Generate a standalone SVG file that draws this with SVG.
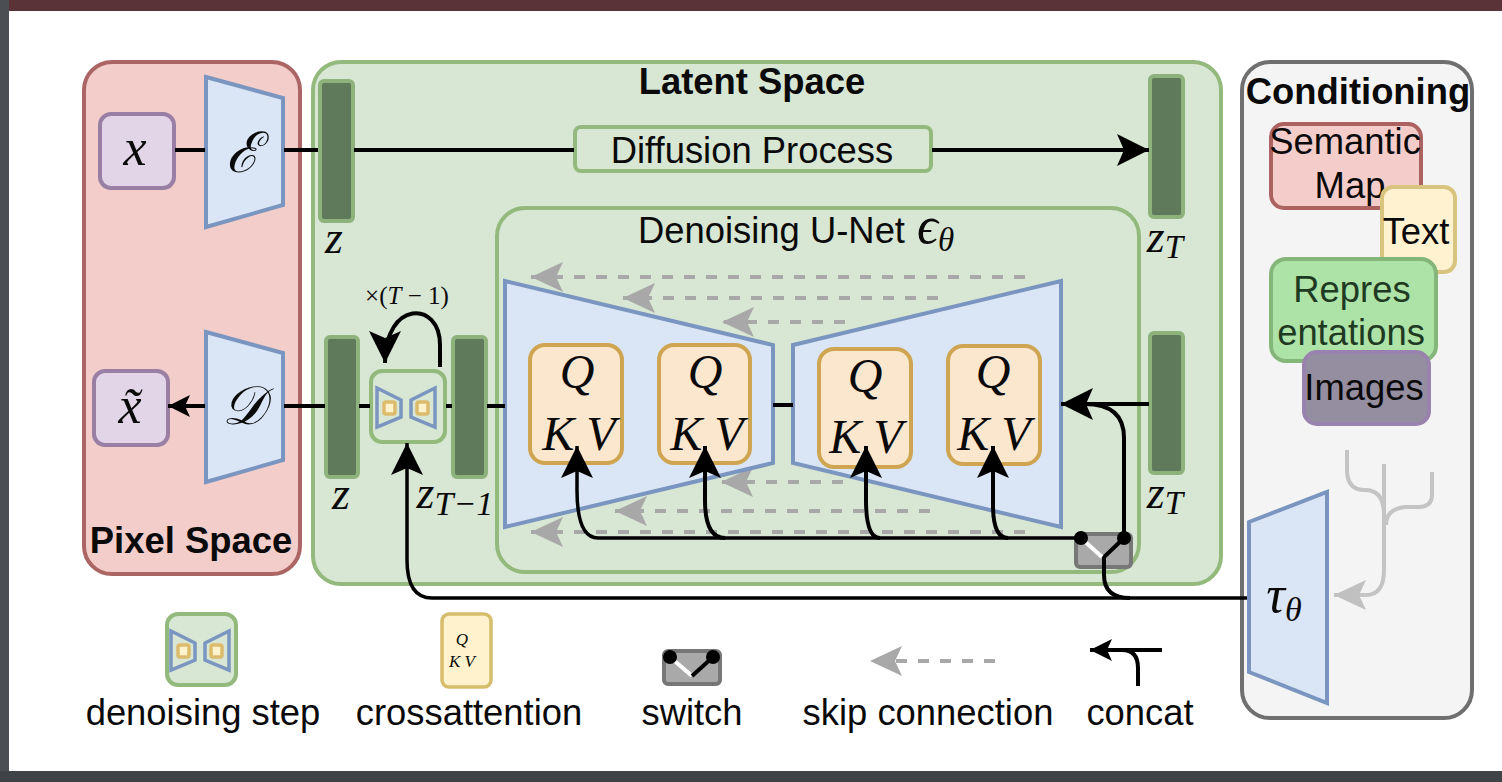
<svg xmlns="http://www.w3.org/2000/svg" xmlns:xlink="http://www.w3.org/1999/xlink" width="1502" height="782" viewBox="0 0 1502 782">
<style>
svg{font-size:36.4px}
text{font-family:"Liberation Sans",Arial,sans-serif;fill:#0a0a0a;text-anchor:middle}
.b{font-weight:bold}
.m{font-family:"Liberation Serif","Times New Roman",serif;font-style:italic}
.bar{fill:#5e7a5a;stroke:#8db27b;stroke-width:4}
.trap{fill:#dae6f6;stroke:#7a95bf;stroke-width:4}
.qkv{fill:#fbe6ce;stroke:#cfa552;stroke-width:4}
.conn{fill:none;stroke:#000;stroke-width:4}
.thin{fill:none;stroke:#000;stroke-width:3.5}
.skip{fill:none;stroke:#a8a8a8;stroke-width:4;stroke-dasharray:11 11;marker-end:url(#gh)}
.tree{fill:none;stroke:#c4c4c4;stroke-width:4}
.sw{fill:#a9a9a9;stroke:#777;stroke-width:4}
</style>
<defs>
<marker id="bh" markerUnits="userSpaceOnUse" markerWidth="34" markerHeight="34" refX="32" refY="17" orient="auto"><path d="M0 1L32 17L0 33L7 17Z" fill="#000"/></marker>
<marker id="bs" markerUnits="userSpaceOnUse" markerWidth="24" markerHeight="26" refX="22" refY="13" orient="auto"><path d="M0 2L22 13L0 24L5 13Z" fill="#000"/></marker>
<marker id="gh" markerUnits="userSpaceOnUse" markerWidth="34" markerHeight="34" refX="32" refY="17" orient="auto"><path d="M0 2L32 17L0 32L7 17Z" fill="#a8a8a8"/></marker>
<marker id="lh" markerUnits="userSpaceOnUse" markerWidth="34" markerHeight="34" refX="32" refY="17" orient="auto"><path d="M0 2L32 17L0 32L7 17Z" fill="#c0c0c0"/></marker>
<g id="mini">
<path d="M-29-19L-5-7V10L-29 20Z M29-19L5-7V10L29 20Z" fill="none" stroke="#7a95bf" stroke-width="3.5"/>
<rect x="-22" y="-5" width="11" height="12" rx="2" fill="#fff2cc" stroke="#dcbc6c" stroke-width="3.5"/>
<rect x="11" y="-5" width="11" height="12" rx="2" fill="#fff2cc" stroke="#dcbc6c" stroke-width="3.5"/>
</g>
</defs>
<rect width="1502" height="782" fill="#fff"/>
<rect width="1502" height="11" fill="#5a3338"/>
<rect width="9" height="782" fill="#4b4f53"/>
<rect y="771" width="1502" height="11" fill="#3f4347"/>

<g id="pixel-space"><rect x="84" y="62" width="216" height="512" rx="28" fill="#f2cdc9" stroke="#ab6565" stroke-width="4"/><text class="b" x="191" y="553">Pixel Space</text></g>
<g id="latent-space"><rect x="313" y="62" width="908" height="522" rx="28" fill="#d8e6d4" stroke="#93b97d" stroke-width="4"/><text class="b" x="752" y="94">Latent Space</text></g>
<g id="conditioning"><rect x="1242" y="62" width="230" height="656" rx="28" fill="#f4f4f4" stroke="#6f6f6f" stroke-width="4"/><text class="b" x="1358" y="104">Conditioning</text></g>
<g id="unet"><rect x="497" y="208" width="642" height="364" rx="28" fill="#d8e6d4" stroke="#93b97d" stroke-width="4"/><text x="638" y="243" style="text-anchor:start">Denoising U-Net <tspan class="m" font-size="52" dx="2">ϵ</tspan><tspan class="m" font-size="33" dy="8">θ</tspan></text></g>

<g id="connectors-skip">
<path class="skip" d="M1025 277H531"/>
<path class="skip" d="M938 298H623"/>
<path class="skip" d="M845 322H722"/>
<path class="skip" d="M843 482H721"/>
<path class="skip" d="M930 511H615"/>
<path class="skip" d="M1025 532H531"/>
</g>

<g id="node-x"><rect x="100" y="114" width="74" height="74" rx="11" fill="#e1d5e7" stroke="#9a7fa5" stroke-width="4"/><text class="m" x="135" y="165" font-size="52">x</text></g>
<g id="node-encoder"><path class="trap" d="M206 77L283 98V205L206 227Z"/><text class="m" x="243" y="172" font-size="56">ℰ</text></g>
<g id="node-xt"><rect x="94" y="371" width="74" height="74" rx="11" fill="#e1d5e7" stroke="#9a7fa5" stroke-width="4"/><text class="m" x="130" y="423" font-size="52">x̃</text></g>
<g id="node-decoder"><path class="trap" d="M206 332L283 353V460L206 482Z"/><text class="m" x="243" y="424" font-size="54">𝒟</text></g>
<g id="node-z1"><rect class="bar" x="320" y="81" width="33" height="140" rx="4"/><text class="m" x="334" y="253" font-size="46">z</text></g>
<g id="node-zt1"><rect class="bar" x="1150" y="76" width="33" height="141" rx="4"/><text class="m" x="1165" y="252" font-size="46">z<tspan font-size="33" dy="6">T</tspan></text></g>
<g id="node-diffusion"><rect x="575" y="127" width="356" height="44" rx="6" fill="#d8e6d4" stroke="#93b97d" stroke-width="4"/><text x="752" y="163">Diffusion Process</text></g>
<g id="node-z2"><rect class="bar" x="326" y="337" width="32" height="140" rx="4"/><text class="m" x="341" y="509" font-size="46">z</text></g>
<g id="node-ztm1"><rect class="bar" x="453" y="337" width="33" height="140" rx="4"/><text class="m" x="455" y="508" font-size="46">z<tspan font-size="34" dy="7">T−1</tspan></text></g>
<g id="node-zt2"><rect class="bar" x="1150" y="333" width="33" height="140" rx="4"/><text class="m" x="1165" y="508" font-size="46">z<tspan font-size="33" dy="6">T</tspan></text></g>
<g id="node-step"><rect x="371" y="371" width="74" height="71" rx="11" fill="#d8e6d4" stroke="#93b97d" stroke-width="4"/><use xlink:href="#mini" href="#mini" x="406" y="407"/></g>
<text class="m" x="407" y="304" font-size="25" style="font-style:normal">×(<tspan font-style="italic">T</tspan> − 1)</text>
<g id="node-unet-left"><path class="trap" d="M505 281L773 345V463L505 527Z"/></g>
<g id="node-unet-right"><path class="trap" d="M793 345L1061 281V527L793 463Z"/></g>
<g id="node-qkv1"><rect class="qkv" x="530" y="345" width="92" height="118" rx="15"/><text class="m" x="577" y="388" font-size="48">Q</text><text class="m" x="579" y="450" font-size="48">K V</text></g>
<g id="node-qkv2"><rect class="qkv" x="659" y="345" width="91" height="118" rx="15"/><text class="m" x="705" y="388" font-size="48">Q</text><text class="m" x="707" y="450" font-size="48">K V</text></g>
<g id="node-qkv3"><rect class="qkv" x="819" y="349" width="92" height="118" rx="15"/><text class="m" x="865" y="392" font-size="48">Q</text><text class="m" x="866" y="453" font-size="48">K V</text></g>
<g id="node-qkv4"><rect class="qkv" x="948" y="346" width="92" height="118" rx="15"/><text class="m" x="993" y="388" font-size="48">Q</text><text class="m" x="994" y="450" font-size="48">K V</text></g>
<g id="node-switch"><rect class="sw" x="1076" y="534" width="55" height="33" rx="4"/></g>

<g id="connectors">
<path class="conn" d="M175 150H205M284 150H318M354 150H574"/>
<path class="conn" d="M932 150H1149" marker-end="url(#bh)"/>
<path class="conn" d="M284 406H325M359 406H370M446 406H452M487 406H505M773 405H793"/>
<path class="conn" d="M205 406H168" marker-end="url(#bs)"/>
<path class="conn" d="M1149 404H1061" marker-end="url(#bh)"/>
<path class="conn" d="M1124 538V438Q1124 404 1085 404"/>
<path class="conn" d="M440 367V345C440 300 385 300 385 363" marker-end="url(#bh)"/>
<path class="thin" d="M1250 598H432Q407 598 407 560V443" marker-end="url(#bh)"/>
<path class="thin" d="M1081 538H598Q577 538 577 490V446" marker-end="url(#bh)"/>
<path class="conn" d="M725 538Q705 538 705 500V446" marker-end="url(#bh)"/>
<path class="conn" d="M880 538Q866 538 866 500V446" marker-end="url(#bh)"/>
<path class="conn" d="M1008 538Q993 538 993 505V446" marker-end="url(#bh)"/>
<path class="conn" d="M1124 538L1104 557V575Q1104 598 1130 598"/>
<path d="M1081 538L1102 557" fill="none" stroke="#fff" stroke-width="4"/>
<circle cx="1081" cy="538" r="7" fill="#000"/><circle cx="1124" cy="538" r="7" fill="#000"/>
<path class="tree" d="M1347 450V470Q1347 490 1365 490Q1384 490 1384 515M1384 464V570Q1384 595 1366 595H1334" marker-end="url(#lh)"/>
<path class="tree" d="M1432 472V495Q1432 507 1418 507H1405Q1386 509 1386 525"/>
</g>

<g id="node-tau"><path class="trap" d="M1249 522L1327 492V703L1249 672Z"/><text class="m" x="1284" y="612" font-size="52">τ<tspan font-size="34" dy="9">θ</tspan></text></g>
<g id="node-semantic"><rect x="1271" y="124" width="150" height="84" rx="13" fill="#f4cdca" stroke="#ac6260" stroke-width="4"/><text x="1345" y="154">Semantic</text><text x="1350" y="198">Map</text></g>
<g id="node-text"><rect x="1382" y="187" width="73" height="85" rx="11" fill="#fff2d0" stroke="#d8c47f" stroke-width="4"/><text x="1416" y="244">Text</text></g>
<g id="node-repres"><rect x="1271" y="259" width="165" height="102" rx="15" fill="#aee3a8" stroke="#85b679" stroke-width="4"/><text x="1352" y="302" style="fill:#1f3a22">Repres</text><text x="1351" y="345" style="fill:#1f3a22">entations</text></g>
<g id="node-images"><rect x="1304" y="352" width="125" height="72" rx="13" fill="#958ea0" stroke="#9a82ae" stroke-width="4"/><text x="1364" y="400">Images</text></g>

<g id="legend-step"><rect x="167" y="614" width="69" height="71" rx="11" fill="#d8e6d4" stroke="#93b97d" stroke-width="4"/><use xlink:href="#mini" href="#mini" x="200" y="650"/><text x="203" y="725">denoising step</text></g>
<g id="legend-cross"><rect x="442" y="614" width="49" height="73" rx="7" fill="#fff2cc" stroke="#d6bd6c" stroke-width="3.5"/><text class="m" x="462" y="645" font-size="17">Q</text><text class="m" x="462" y="667" font-size="17">K V</text><text x="469" y="725">crossattention</text></g>
<g id="legend-switch"><rect class="sw" x="664" y="651" width="56" height="33" rx="4"/><path d="M670 657L692 676" stroke="#fff" stroke-width="4"/><path d="M713 657L692 676" stroke="#000" stroke-width="4"/><circle cx="670" cy="657" r="7" fill="#000"/><circle cx="713" cy="657" r="7" fill="#000"/><text x="692" y="725">switch</text></g>
<g id="legend-skip"><path class="skip" d="M995 661H870"/><text x="928" y="725">skip connection</text></g>
<g id="legend-concat"><path class="conn" d="M1162 650H1090" marker-end="url(#bs)"/><path class="conn" d="M1138 686V668Q1138 650 1122 650"/><text x="1140" y="725">concat</text></g>
</svg>
